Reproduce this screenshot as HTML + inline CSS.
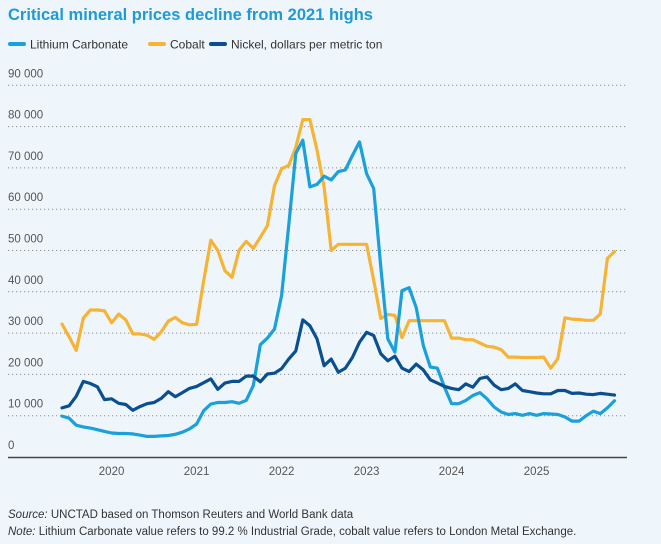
<!DOCTYPE html>
<html><head><meta charset="utf-8"><style>
body{margin:0;background:#eef6fc;font-family:"Liberation Sans",sans-serif;}
#wrap{position:relative;width:661px;height:544px;overflow:hidden;background:#eef6fc;}
</style></head><body>
<div id="wrap">
<svg id="chart" width="661" height="544"></svg>
</div>
<script>
const years=["2020","2021","2022","2023","2024","2025"];
const yTicks=[0,10000,20000,30000,40000,50000,60000,70000,80000,90000];
const lithium=[9.9,9.4,7.7,7.3,7.0,6.6,6.2,5.8,5.7,5.7,5.6,5.3,5.0,5.0,5.1,5.2,5.5,6.0,6.8,8.0,11.2,12.8,13.2,13.2,13.4,13.0,13.7,17.3,27.2,28.8,31.0,39.1,56,73.5,76.7,65.4,66,68,67.1,69.1,69.5,73,76.3,68.6,65,46,28.6,25.4,40.3,41,36.2,27,21.8,21.5,16.9,12.9,12.9,13.7,14.9,15.6,14.1,12.1,10.9,10.3,10.5,10.1,10.5,10.1,10.5,10.4,10.3,9.7,8.7,8.7,10,11.1,10.5,11.9,13.6];
const cobalt=[32.2,29.1,25.8,33.6,35.6,35.6,35.4,32.5,34.6,33.2,29.8,29.8,29.5,28.5,30.3,32.9,33.8,32.5,32.0,32.1,42.7,52.5,50,45.1,43.5,50.1,52.2,50.5,53.2,56,65.7,69.8,70.6,75,81.7,81.7,74.3,65.4,50,51.5,51.5,51.5,51.5,51.5,42.8,33.5,34.5,34.3,28.9,33,33,33,33,33,33,28.8,28.8,28.4,28.4,27.6,26.8,26.6,26,24.2,24.2,24.1,24.1,24.1,24.2,21.5,23.8,33.7,33.4,33.3,33.1,33.1,34.6,48.1,49.7];
const nickel=[11.9,12.4,14.7,18.3,17.8,17,13.9,14.1,13,12.7,11.3,12.2,12.9,13.2,14.2,15.8,14.6,15.6,16.6,17.1,18,18.9,16.4,17.9,18.3,18.3,19.6,19.6,18.2,20.1,20.3,21.4,23.7,25.7,33.2,31.8,28.6,22.1,23.7,20.5,21.5,24.1,27.8,30.2,29.4,25,23.3,24.4,21.5,20.7,22.5,21.1,18.7,17.9,17.1,16.6,16.3,17.7,16.9,19,19.4,17.4,16.3,16.6,17.7,16.1,15.8,15.5,15.3,15.3,16.1,16.1,15.4,15.5,15.2,15.1,15.4,15.2,15.0];
const NS="http://www.w3.org/2000/svg";
const svg=document.getElementById('chart');
const x0=62,mStep=85/12,yearStart=7;
function xs(i){return x0+i*mStep;}
function ys(v){return 457-v*4.13/1000;}
function mk(t,a,parent){const e=document.createElementNS(NS,t);for(const k in a)e.setAttribute(k,a[k]);(parent||svg).appendChild(e);return e;}
let e;
e=mk('text',{x:8,y:20,fill:'#1e9ad6','font-size':'16.5','font-weight':'bold'});e.textContent='Critical mineral prices decline from 2021 highs';


const legend=[["Lithium Carbonate","#1aa0db",8],["Cobalt","#f6b334",148],["Nickel, dollars per metric ton","#0a4f8f",209]];
legend.forEach(l=>{
  const g=mk('g',{});
  
  
  mk('line',{x1:l[2]+2,y1:44,x2:l[2]+16,y2:44,stroke:l[1],'stroke-width':4,'stroke-linecap':'round'},g);
  const t=mk('text',{x:l[2]+22,y:48.5,fill:'#333','font-size':'12'},g);t.textContent=l[0];
});
yTicks.forEach(v=>{
  const y=ys(v);
  if(v>0){const gl=mk('line',{x1:8,y1:y,x2:627,y2:y,stroke:'#8a8f96','stroke-width':1,'stroke-dasharray':'1.2 2.8'});
  
  }
  const t=mk('text',{x:8,y:y-8,fill:'#555','font-size':'11.5'});
  t.textContent=v===0?'0':String(v/1000)+' 000';
  
  
});
e=mk('line',{x1:8,y1:457.5,x2:627,y2:457.5,stroke:'#444','stroke-width':1.5});


years.forEach((yr,k)=>{
  const t=mk('text',{x:xs(yearStart+k*12),y:475,fill:'#555','font-size':'11.5','text-anchor':'middle'});
  t.textContent=yr;
  
  
});
function series(arr,col,name){
  const d=arr.map((v,i)=>(i?'L':'M')+xs(i).toFixed(1)+' '+ys(v*1000).toFixed(1)).join(' ');
  const p=mk('path',{d:d,fill:'none',stroke:col,'stroke-width':3.2,'stroke-linejoin':'round','stroke-linecap':'round'});
  
  
}
series(cobalt,'#f6b334','cobalt-line');
series(lithium,'#1aa0db','lithium-line');
series(nickel,'#0a4f8f','nickel-line');
e=mk('text',{x:8,y:518,fill:'#333','font-size':'11.5'});
e.innerHTML='<tspan font-style="italic">Source:</tspan> UNCTAD based on Thomson Reuters and World Bank data';


e=mk('text',{x:8,y:535,fill:'#333','font-size':'11.5'});
e.innerHTML='<tspan font-style="italic">Note:</tspan> Lithium Carbonate value refers to 99.2 % Industrial Grade, cobalt value refers to London Metal Exchange.';


</script>
</body></html>
